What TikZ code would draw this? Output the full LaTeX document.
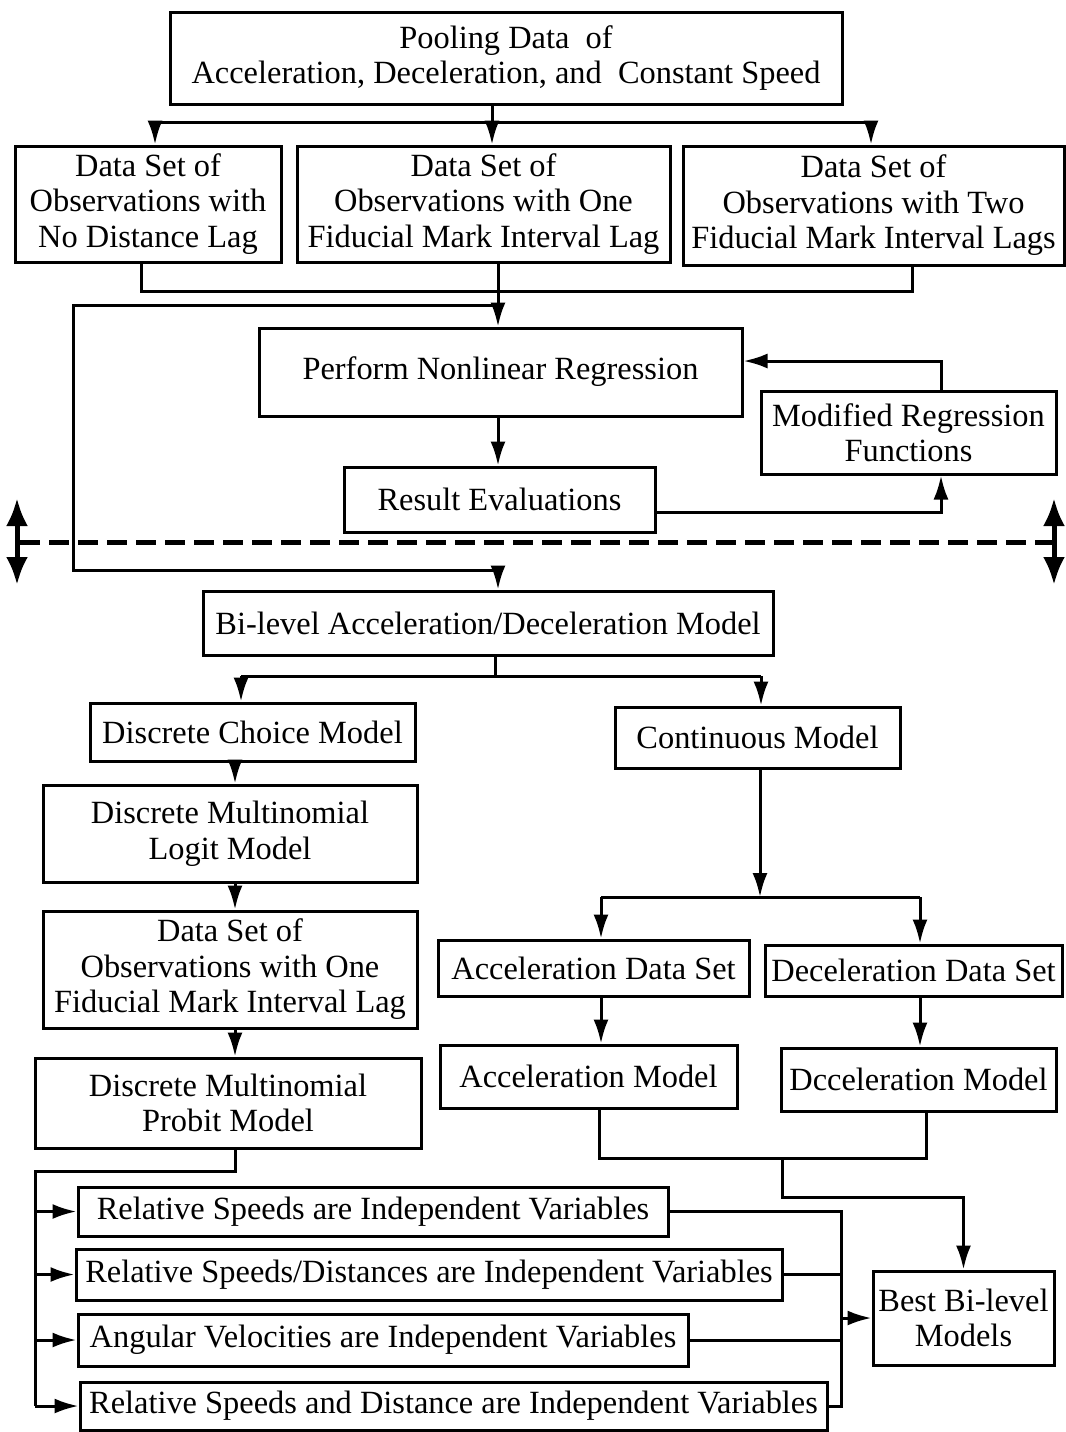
\documentclass[tikz,border=0pt]{standalone}
\usepackage{fontspec}
\setmainfont{Liberation Serif}
\usetikzlibrary{arrows.meta}
\begin{document}
\begin{tikzpicture}[x=0.5pt,y=-0.5pt,line width=1.5pt,
  font=\fontsize{16.2}{17.75}\selectfont,
  box/.style={draw,align=center,inner sep=0pt},
  arr/.style={-{Latex[length=12pt,width=7.5pt]}},
  bigarr/.style={{Latex[length=14pt,width=11pt]}-{Latex[length=14pt,width=11pt]},line width=2.5pt}]
  \useasboundingbox (0,0) rectangle (1066,1432);

  % upper stage: data sets and regression
  \node[box,minimum width=336pt,minimum height=46pt] (pool) at (506,58)
    {Pooling Data~ of\\Acceleration, Deceleration, and~ Constant Speed};
  \node[box,minimum width=133pt,minimum height=58pt] (ds0) at (148,204)
    {Data Set of\\Observations with\\No Distance Lag};
  \node[box,minimum width=186.5pt,minimum height=58pt] (ds1) at (483.5,204)
    {Data Set of\\Observations with One\\Fiducial Mark Interval Lag};
  \node[box,minimum width=190.5pt,minimum height=59.5pt] (ds2) at (873.5,205.5)
    {Data Set of\\Observations with Two\\Fiducial Mark Interval Lags};
  \node[box,minimum width=241.5pt,minimum height=44pt] (nlr) at (500.5,372)
    {Perform Nonlinear Regression};
  \node[box,minimum width=147.5pt,minimum height=41.5pt] (mod) at (908.5,432.5)
    {Modified Regression\\Functions};
  \node[box,minimum width=155.5pt,minimum height=32.5pt] (res) at (499.5,499.5)
    {Result Evaluations};

  % lower stage: bi-level models
  \node[box,minimum width=285pt,minimum height=32pt] (bil) at (488,623)
    {Bi-level Acceleration/Deceleration Model};
  \node[box,minimum width=162.5pt,minimum height=29pt] (dcm) at (252.5,732)
    {Discrete Choice Model};
  \node[box,minimum width=142.5pt,minimum height=30.5pt] (cont) at (757.5,737.5)
    {Continuous Model};
  \node[box,minimum width=187pt,minimum height=48.5pt] (logit) at (230,833.5)
    {Discrete Multinomial\\Logit Model};
  \node[box,minimum width=187pt,minimum height=58.5pt] (dsone) at (230,969.5)
    {Data Set of\\Observations with One\\Fiducial Mark Interval Lag};
  \node[box,minimum width=193pt,minimum height=45pt] (probit) at (228,1103)
    {Discrete Multinomial\\Probit Model};
  \node[box,minimum width=155.5pt,minimum height=28pt] (accds) at (593.5,968)
    {Acceleration Data Set};
  \node[box,minimum width=148.5pt,minimum height=25.5pt] (decds) at (913.5,970.5)
    {Deceleration Data Set};
  \node[box,minimum width=148.5pt,minimum height=31.5pt] (accm) at (588.5,1076.5)
    {Acceleration Model};
  \node[box,minimum width=137.5pt,minimum height=31.5pt] (decm) at (918.5,1079.5)
    {Dcceleration Model};
  \node[box,minimum width=90.5pt,minimum height=47pt] (best) at (963.5,1318)
    {Best Bi-level\\Models};
  \node[box,minimum width=295pt,minimum height=24.5pt] (r1) at (373,1211.5)
    {Relative Speeds are Independent Variables};
  \node[box,minimum width=353pt,minimum height=25.5pt] (r2) at (429,1274.5)
    {Relative Speeds/Distances are Independent Variables};
  \node[box,minimum width=305pt,minimum height=26pt] (r3) at (383,1340)
    {Angular Velocities are Independent Variables};
  \node[box,minimum width=373.5pt,minimum height=24pt] (r4) at (453.5,1406)
    {Relative Speeds and Distance are Independent Variables};

  % fan out of the pooled data
  \coordinate (t0) at (155,122);
  \coordinate (t1) at (492,122);
  \coordinate (t2) at (871,122);
  \draw (pool.south -| t1) -- (t1);
  \draw (t0) -- (t2);
  \foreach \c/\n in {t0/ds0,t1/ds1,t2/ds2}
    \draw[arr] (\c) -- (\c |- \n.north);

  % data sets into the regression, and the bypass
  \coordinate (m0) at (141,291);
  \coordinate (m1) at (498,291);
  \coordinate (m2) at (912,291);
  \coordinate (by1) at (73,305);
  \coordinate (by2) at (73,570);
  \draw (m0 |- ds0.south) -- (m0) -- (m2) -- (m2 |- ds2.south);
  \draw[arr] (m1 |- ds1.south) -- (m1 |- nlr.north);
  \draw[arr] (m1 |- by1) -- (by1) -- (by2) -- (by2 -| m1) -- (m1 |- bil.north);

  % regression loop
  \coordinate (lp) at (941,512);
  \coordinate (lq) at (941,361);
  \draw[arr] (m1 |- nlr.south) -- (m1 |- res.north);
  \draw[arr] (res.east |- lp) -- (lp) -- (lp |- mod.south);
  \draw[arr] (lq |- mod.north) -- (lq) -- (lq -| nlr.east);

  % stage divider
  \draw[line width=2.5pt,dash pattern=on 10pt off 4.5pt] (20,542) -- (1052,542);
  \draw[bigarr] (17,498) -- (17,585);
  \draw[bigarr] (1054,498) -- (1054,585);

  % bi-level split
  \coordinate (sm) at (495,676);
  \coordinate (s0) at (241,676);
  \coordinate (s1) at (761,676);
  \draw (sm |- bil.south) -- (sm);
  \draw (s0) -- (s1);
  \draw[arr] (s0) -- (s0 |- dcm.north);
  \draw[arr] (s1) -- (s1 |- cont.north);

  % discrete chain
  \coordinate (lc) at (235,0);
  \draw[arr] (lc |- dcm.south) -- (lc |- logit.north);
  \draw[arr] (lc |- logit.south) -- (lc |- dsone.north);
  \draw[arr] (lc |- dsone.south) -- (lc |- probit.north);

  % continuous chain
  \coordinate (cs) at (760,897);
  \coordinate (cs0) at (601,897);
  \coordinate (cs1) at (920,897);
  \draw[arr] (cs |- cont.south) -- (cs);
  \draw (cs0) -- (cs1);
  \draw[arr] (cs0) -- (cs0 |- accds.north);
  \draw[arr] (cs1) -- (cs1 |- decds.north);
  \draw[arr] (cs0 |- accds.south) -- (cs0 |- accm.north);
  \draw[arr] (cs1 |- decds.south) -- (cs1 |- decm.north);

  % continuous models into the best models
  \coordinate (g0) at (599,1158);
  \coordinate (g1) at (926,1158);
  \coordinate (g2) at (782,1158);
  \coordinate (g3) at (782,1197);
  \draw (g0 |- accm.south) -- (g0) -- (g1) -- (g1 |- decm.south);
  \draw[arr] (g2) -- (g3) -| (best.north);

  % variable sets
  \coordinate (lb0) at (35,1171);
  \coordinate (lb1) at (35,1406);
  \draw (lc |- probit.south) -- (lc |- lb0) -- (lb0) -- (lb1);
  \foreach \n in {r1,r2,r3,r4}
    \draw[arr] (lb0 |- \n.west) -- (\n.west);
  \coordinate (rb) at (841,0);
  \draw (r1.east) -| (rb |- r4.east) -- (r4.east);
  \draw (r2.east) -- (rb |- r2.east);
  \draw (r3.east) -- (rb |- r3.east);
  \draw[arr] (rb |- best.west) -- (best.west);
\end{tikzpicture}
\end{document}
